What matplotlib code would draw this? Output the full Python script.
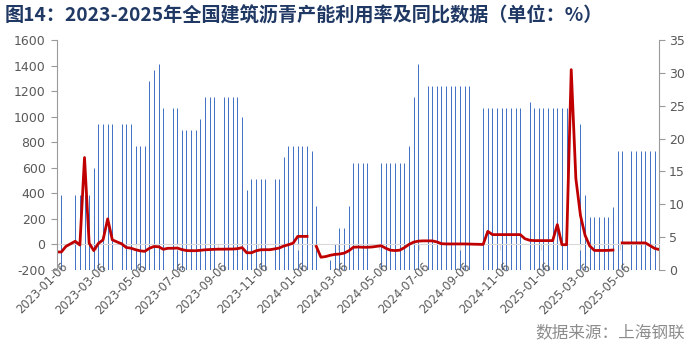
import numpy as np
import pandas as pd
import matplotlib
matplotlib.use("Agg")
import matplotlib.pyplot as plt
import matplotlib.transforms as mtransforms

nan = np.nan

# weekly observation dates
dates = pd.date_range("2023-01-06", periods=131, freq="7D")

# capacity utilisation rate (%), right axis
utilization = [
    nan, 11.4, nan, nan, 11.4, 11.4, 11.4, 11.4, 15.5, 22.2,
    22.2, 22.2, 22.2, nan, 22.2, 22.2, 22.2, 18.9, 18.9, 18.9,
    28.8, 30.4, 31.35, 24.65, nan, 24.65, 24.65, 21.3, 21.3, 21.3,
    21.3, 23.0, 26.3, 26.3, 26.3, nan, 26.3, 26.3, 26.3, 26.3,
    23.3, 12.2, 13.85, 13.85, 13.85, 13.85, nan, 13.85, 13.85, 17.2,
    18.87, 18.87, 18.87, 18.87, 18.87, 18.1, 9.74, nan, nan, 1.5,
    4.0, 6.4, 6.4, 9.74, 16.3, 16.33, 16.33, 16.33, nan, nan,
    16.33, 16.33, 16.33, 16.33, 16.33, 16.33, 18.87, 26.33, 31.35, nan,
    28.0, 28.0, 28.0, 28.0, 28.0, 28.0, 28.0, 28.0, 28.0, 28.0,
    nan, nan, 24.65, 24.65, 24.65, 24.65, 24.65, 24.65, 24.65, 24.65,
    24.65, nan, 25.57, 24.65, 24.65, 24.65, 24.65, 24.65, 24.65, 24.65,
    24.65, nan, nan, 22.2, 11.41, 8.07, 8.07, 8.07, 8.07, 8.07,
    9.6, 18.06, 18.06, nan, 18.06, 18.06, 18.06, 18.06, 18.06, 18.06,
    nan,
]

# year-on-year change (%), left axis
yoy = [
    -59, -59, -15, 5, 25, -5, 680, 10, -48, 8,
    36, 200, 36, 20, 5, -24, -29, -41, -50, -54,
    -30, -16, -18, -38, -30, -30, -28, -40, -48, -49,
    -49, -46, -42, -40, -38, -37, -37, -36, -36, -33,
    -25, -65, -65, -50, -42, -41, -41, -35, -28, -12,
    -2, 10, 63, 63, 63, nan, -15, -100, -95, -85,
    -78, -75, -68, -50, -22, -20, -22, -22, -20, -15,
    -10, -30, -45, -48, -45, -25, 0, 18, 26, 28,
    28, 28, 20, 6, 4, 4, 4, 4, 4, 3,
    2, 1, 0, 102, 77, 77, 77, 77, 77, 77,
    77, 45, 33, 30, 30, 30, 30, 30, 155, -2,
    -2, 1368, 515, 225, 70, -12, -47, -47, -47, -46,
    -44, nan, 12, 12, 12, 12, 12, 12, -10, -31,
    -40,
]

tick_labels = [
    "2023-01-06", "2023-03-06", "2023-05-06", "2023-07-06", "2023-09-06",
    "2023-11-06", "2024-01-06", "2024-03-06", "2024-05-06", "2024-07-06",
    "2024-09-06", "2024-11-06", "2025-01-06", "2025-03-06", "2025-05-06",
]
left_ticks = list(range(-200, 1601, 200))
right_ticks = list(range(0, 36, 5))

title = "图14：2023-2025年全国建筑沥青产能利用率及同比数据（单位：%）"
source = "数据来源：上海钢联"

cjk = ["Noto Sans CJK SC", "DejaVu Sans"]
plt.rcParams["font.family"] = ["DejaVu Sans"]

W, H = 693, 356
fig = plt.figure(figsize=(W / 100, H / 100), dpi=100)
fig.patch.set_facecolor("white")

x0, x1, ytop, ybot = 56.7, 659.3, 40, 270
ax = fig.add_axes([x0 / W, 1 - ybot / H, (x1 - x0) / W, (ybot - ytop) / H])
ax2 = ax.twinx()

ax2.vlines(dates, 0, utilization, colors="#4472C4", linewidth=0.72, snap=True)
ax.plot(dates, yoy, color="#C00000", lw=2.0, solid_joinstyle="round")

ax.set_zorder(ax2.get_zorder() + 1)
ax.patch.set_visible(False)

ax.set_xlim(dates[0], dates[-1])
ax.set_ylim(-200, 1600)
ax2.set_ylim(0, 35)

grey = "#9A9A9A"
label_col = "#595959"
for a in (ax, ax2):
    for s in ("top", "bottom"):
        a.spines[s].set_visible(False)
ax.spines["right"].set_visible(False)
ax2.spines["left"].set_visible(False)
ax.spines["left"].set_color(grey)
ax2.spines["right"].set_color(grey)

ax.set_yticks(left_ticks)
ax.set_yticklabels([str(v) for v in left_ticks])
ax2.set_yticks(right_ticks)
ax.tick_params(axis="y", colors=grey, labelcolor=label_col, labelsize=9, length=4, pad=4)
ax2.tick_params(axis="y", colors=grey, labelcolor=label_col, labelsize=9, length=4, pad=3)

tick_pos = pd.to_datetime(tick_labels)
ax.set_xticks(tick_pos)
ax.set_xticklabels(tick_labels, rotation=45, ha="right", va="top",
                   rotation_mode="anchor", color=label_col, fontsize=8.3)
ax.tick_params(axis="x", length=0, pad=-7)
shift = mtransforms.ScaledTranslation(4 / 100, 0, fig.dpi_scale_trans)
for lab in ax.get_xticklabels():
    lab.set_transform(lab.get_transform() + shift)

# horizontal category axis line at y = 0
sec = ax.secondary_xaxis(0, transform=ax.transData)
sec.spines["bottom"].set_color("#D9D9D9")
sec.set_xticks(tick_pos)
sec.set_xticklabels([])
sec.tick_params(axis="x", colors="#D9D9D9", length=4, direction="out")

fig.text(5 / W, 1 - 16 / H, title, fontsize=13.8, fontweight="bold",
         color="#1F3864", va="center", ha="left", family=cjk)
fig.text(685 / W, 1 - 333 / H, source, fontsize=12, color="#8C8C8C",
         va="center", ha="right", family=cjk)

fig.savefig("out.png", dpi=100, facecolor="white")
